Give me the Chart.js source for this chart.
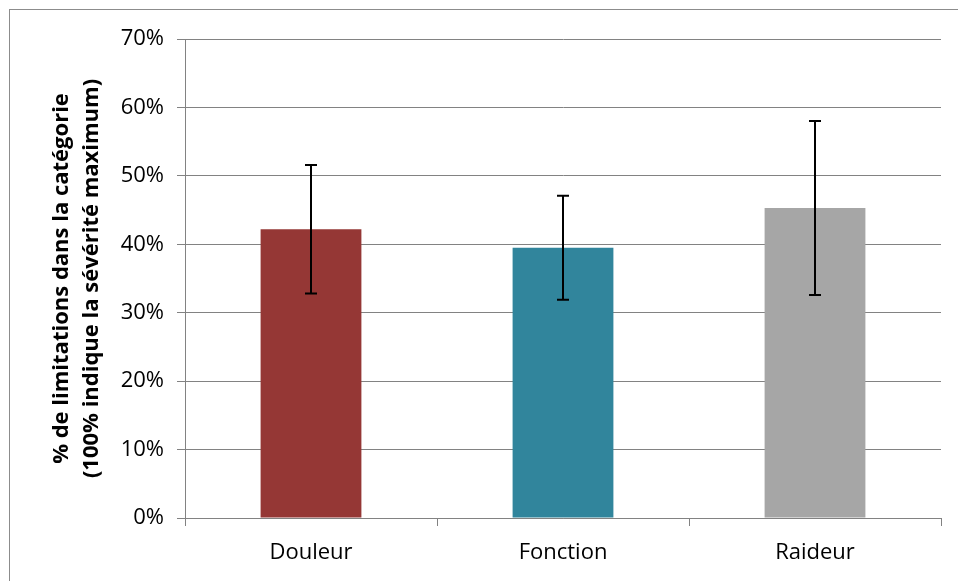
<!DOCTYPE html>
<html lang="fr">
<head>
    <meta charset="UTF-8">
    <title>Limitations par catégorie</title>
    <script src="https://cdn.jsdelivr.net/npm/chart.js"></script>
    <style>
        body { margin: 0; background: #fff; }
        #wrap { position: relative; width: 958px; height: 581px; overflow: hidden; }
        #cadre { position: absolute; left: 9px; top: 9px; width: 1000px; height: 1000px;
                 border-left: 1px solid #8c8c8c; border-top: 1px solid #8c8c8c; }
        canvas { position: absolute; left: 0; top: 0; }
    </style>
</head>
<body>
    <div id="wrap">
        <div id="cadre"></div>
        <canvas id="graphique" width="958" height="581"></canvas>
    </div>

    <script>
        // données
        var categories = ["Douleur", "Fonction", "Raideur"];
        var valeurs = [42.2, 39.5, 45.3];
        var erreurs = [9.4, 7.6, 12.7];
        var couleurs = ["#953735", "#31859C", "#A6A6A6"];
        var ticksY = [0, 10, 20, 30, 40, 50, 60, 70];
        var titreY = ["% de limitations dans la catégorie", "(100% indique la sévérité maximum)"];

        var gris = "#828282";

        // barres d'erreur dessinées avec l'échelle y du graphique
        var barresErreur = {
            id: "barresErreur",
            afterDatasetsDraw(chart) {
                var ctx = chart.ctx;
                var y = chart.scales.y;
                var meta = chart.getDatasetMeta(0);
                ctx.save();
                ctx.strokeStyle = "#000";
                ctx.lineWidth = 2;
                meta.data.forEach((bar, i) => {
                    var haut = y.getPixelForValue(valeurs[i] + erreurs[i]);
                    var bas = y.getPixelForValue(valeurs[i] - erreurs[i]);
                    var x = Math.round(bar.x);
                    ctx.beginPath();
                    ctx.moveTo(x, haut); ctx.lineTo(x, bas);
                    ctx.moveTo(x - 6, haut); ctx.lineTo(x + 6, haut);
                    ctx.moveTo(x - 6, bas); ctx.lineTo(x + 6, bas);
                    ctx.stroke();
                });
                ctx.restore();
            }
        };

        new Chart(document.getElementById("graphique"), {
            type: "bar",
            data: {
                labels: categories,
                datasets: [{
                    data: valeurs,
                    backgroundColor: couleurs,
                    borderWidth: 0,
                    barPercentage: 0.4,
                    categoryPercentage: 1
                }]
            },
            options: {
                responsive: false,
                animation: false,
                events: [],
                layout: { padding: { left: 0, top: 39, right: 17, bottom: 0 } },
                plugins: { legend: { display: false }, tooltip: { enabled: false } },
                scales: {
                    x: {
                        grid: { display: true, drawOnChartArea: false, color: gris, tickLength: 8, offset: true },
                        border: { color: gris, width: 1 },
                        ticks: { color: "#000", padding: 14, font: { family: "'Open Sans'", size: 22 } },
                        afterFit(scale) { scale.height = 63; }
                    },
                    y: {
                        min: 0,
                        max: 70,
                        afterBuildTicks(scale) { scale.ticks = ticksY.map(v => ({ value: v })); },
                        grid: { color: gris, tickLength: 8 },
                        border: { color: gris, width: 1 },
                        ticks: {
                            color: "#000",
                            padding: 13,
                            font: { family: "'Open Sans'", size: 22 },
                            callback: v => v + "%"
                        },
                        title: {
                            display: true,
                            text: titreY,
                            color: "#000",
                            font: { family: "'Open Sans'", size: 22, weight: "bold", lineHeight: 1.4 },
                            padding: { top: 46, bottom: 0 }
                        },
                        afterFit(scale) { scale.width = 185; }
                    }
                }
            },
            plugins: [barresErreur]
        });
    </script>
</body>
</html>
